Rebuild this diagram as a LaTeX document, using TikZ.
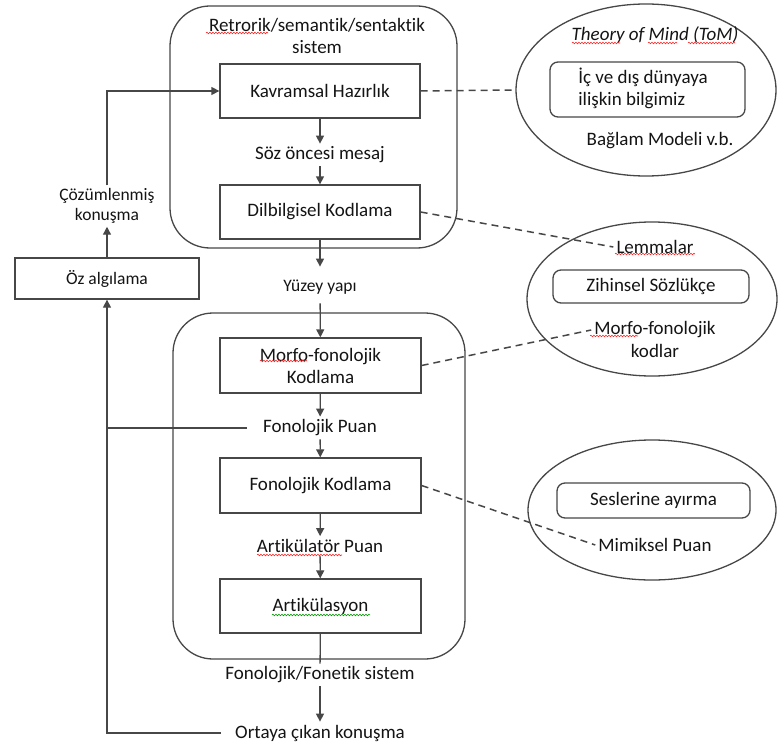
\documentclass[tikz,border=0pt]{standalone}
\usepackage{fontspec}
\setmainfont{Carlito}[Ligatures=NoCommon]
\usetikzlibrary{shapes.geometric,arrows.meta,decorations.pathmorphing}
\tikzset{
  lc/.style={draw=black!72, line width=1.3pt},
  bigtxt/.style={font=\fontsize{19}{22}\selectfont, text=black!92, inner sep=3pt},
  smalltxt/.style={font=\fontsize{17.5}{20}\selectfont, text=black!92, inner sep=3pt},
  stagebox/.style={lc, rectangle, bigtxt, align=center},
  innerbox/.style={lc, rectangle, rounded corners=8pt, bigtxt},
  oval/.style={lc, ellipse, inner sep=0pt},
  arr/.style={lc, -{Triangle[length=8pt,width=8pt]}},
  dsh/.style={lc, line width=1.5pt, dash pattern=on 7pt off 5pt},
  squig/.style={draw=red!85, line width=0.6pt, decorate, decoration={snake, segment length=3pt, amplitude=0.8pt}},
  gsquig/.style={squig, draw=green!60!black},
}
\begin{document}
\begin{tikzpicture}[x=1pt,y=-1pt]
\useasboundingbox (0,0) rectangle (778,746);

% system frames
\draw[lc, rounded corners=40pt] (170,6) rectangle (457,248);
\draw[lc, rounded corners=40pt] (173,313) rectangle (465,659);

\node[bigtxt, align=center] (sys1) at (317,36) {Retrorik/semantik/sentaktik\\sistem};

% main stages
\node[stagebox, minimum width=200pt, minimum height=54pt] (kav) at (320,91) {Kavramsal Hazırlık};
\node[bigtxt] (soz) at (320,155) {Söz öncesi mesaj};
\node[stagebox, minimum width=200pt, minimum height=54pt] (dil) at (320,212) {Dilbilgisel Kodlama};
\node[smalltxt] (yuzey) at (320,287) {Yüzey yapı};
\node[stagebox, minimum width=201pt, minimum height=55pt] (morfo) at (320.5,365.5) {Morfo-fonolojik\\Kodlama};
\node[bigtxt] (fonpuan) at (320,428) {Fonolojik Puan};
\node[stagebox, minimum width=201pt, minimum height=55pt] (fonkod) at (320.5,485.5) {Fonolojik Kodlama};
\node[bigtxt] (artpuan) at (320,546) {Artikülatör Puan};
\node[stagebox, minimum width=201pt, minimum height=54pt] (artik) at (320.5,606) {Artikülasyon};
\node[bigtxt] (fonsis) at (320,675) {Fonolojik/Fonetik sistem};
\node[bigtxt] (ortaya) at (320,733) {Ortaya çıkan konuşma};

% self-perception
\node[lc, rectangle, smalltxt, minimum width=184pt, minimum height=41pt] (ozalg) at (107,278.5) {Öz algılama};
\node[smalltxt, align=center] (cozum) at (107,206) {Çözümlenmiş\\konuşma};

% arrows in main chain
\draw[arr] (kav) -- (soz);
\draw[arr] (soz) -- (dil);
\draw[arr, shorten >=10pt] (dil) -- (yuzey);
\draw[arr, shorten <=6pt] (yuzey) -- (morfo);
\draw[arr] (morfo) -- (fonpuan);
\draw[arr] (fonpuan) -- (fonkod);
\draw[arr] (fonkod) -- (artpuan);
\draw[arr] (artpuan) -- (artik);
\draw[lc] (artik) -- (fonsis);
\draw[arr] (fonsis) -- (ortaya);

% feedback loop
\draw[arr, shorten <=11pt] (ortaya.west) -| (ozalg.south);
\draw[lc, shorten <=13pt] (fonpuan.west) -- (fonpuan.west -| ozalg.south);
\draw[arr] (ozalg) -- (cozum);
\draw[arr] (cozum.north) |- (kav.west);

% Theory of Mind ellipse
\node[oval, minimum width=260pt, minimum height=172pt] (tom) at (646,90) {};
\node[bigtxt, font=\fontsize{19}{22}\selectfont\itshape] (tomt) at (655,35) {Theory of Mind (ToM)};
\node[innerbox, minimum width=195pt, minimum height=55pt] (bilgi) at (647.5,89.5) {};
\node[bigtxt, align=left] (bilgit) at (643,88) {İç ve dış dünyaya\\ilişkin bilgimiz};
\node[bigtxt] (baglam) at (660,141) {Bağlam Modeli v.b.};

% Mental lexicon ellipse
\node[oval, minimum width=250pt, minimum height=154pt] (lex) at (652,299) {};
\node[bigtxt] (lemma) at (655,247) {Lemmalar};
\node[innerbox, minimum width=196pt, minimum height=33pt] (zihin) at (651,286.5) {Zihinsel Sözlükçe};
\node[bigtxt] (mf1) at (655,330) {Morfo-fonolojik};
\node[bigtxt] (mf2) at (655,351) {kodlar};

% Syllabification ellipse
\node[oval, minimum width=248pt, minimum height=140pt] (syl) at (652,510) {};
\node[innerbox, minimum width=193pt, minimum height=35pt] (sesler) at (653.5,500.5) {Seslerine ayırma};
\node[bigtxt] (mimik) at (655,545) {Mimiksel Puan};

% dashed links
\draw[dsh] (kav.east) -- (tom.west);
\draw[dsh] (dil.east) -- (lemma.west);
\draw[dsh] (morfo.east) -- (mf1.west);
\draw[dsh] (fonkod.east) -- (mimik.west);

% spell-check underlines
\draw[squig] (206,33) -- (268,33);
\draw[squig] (572,43) -- (620,43);
\draw[squig] (648,43) -- (677,43);
\draw[squig] (688,43) -- (735,43);
\draw[squig] (615,254) -- (695,254);
\draw[squig] (590,336) -- (638,336);
\draw[squig] (260,361) -- (307,361);
\draw[squig] (257,555) -- (342,555);
\draw[gsquig] (272,615) -- (370,615);
\end{tikzpicture}
\end{document}
